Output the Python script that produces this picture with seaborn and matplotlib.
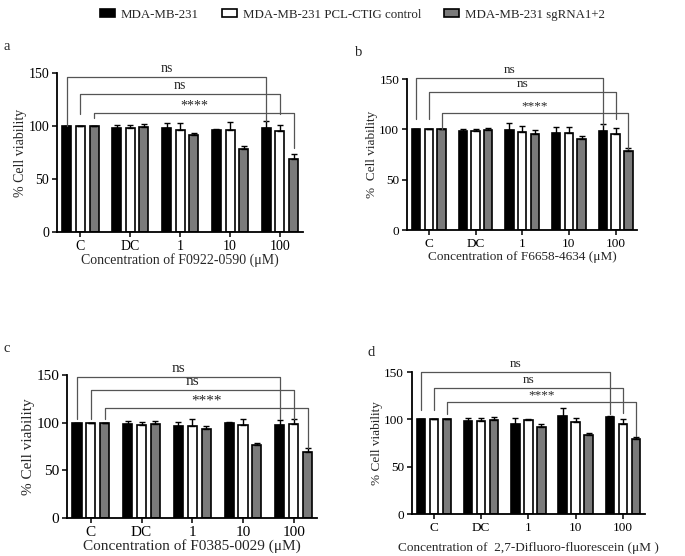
import numpy as np
import pandas as pd
import matplotlib
matplotlib.use('Agg')
import matplotlib.pyplot as plt
from matplotlib.patches import Patch
import seaborn as sns

sns.set_style('ticks')
plt.rcParams['font.family'] = ['Liberation Serif', 'DejaVu Serif']

concs = ['C', 'DC', '1', '10', '100']
groups = ['MDA-MB-231', 'MDA-MB-231 PCL-CTIG control', 'MDA-MB-231 sgRNA1+2']
colors = ['black', 'white', '#7a7a7a']

# mean viability per group (rows = groups, cols = concs)
a_mean = [[100, 98, 98, 96.5, 98], [100, 98.5, 96, 96.7, 95], [100, 99.5, 91.5, 78, 69]]
a_err = [[0, 2.5, 5, 1, 7], [0, 2, 7, 7, 6], [0, 2, 1.5, 3, 5]]
b_mean = [[100, 98.5, 99, 96, 98], [100, 98.5, 97, 96, 95.5], [100, 99.5, 95, 90.5, 78]]
b_err = [[0, 2, 7.5, 6.5, 7], [0, 2, 6, 6.5, 6], [0, 2, 4, 3, 3]]
c_mean = [[100, 98.5, 97, 100, 98], [100, 98, 97, 98, 99], [100, 99, 93.5, 77, 69.5]]
c_err = [[0, 3, 3.5, 1, 4.5], [0, 3, 6.5, 6, 5], [0, 3, 3, 2, 3.5]]
d_mean = [[100, 98.5, 95.5, 104, 103], [100, 98.5, 99, 97.5, 95.5], [100, 99.5, 92, 83, 79]]
d_err = [[0, 2.5, 6, 8, 1], [0, 2.5, 1, 3.5, 5], [0, 2.5, 3, 2.5, 2]]

# significance brackets: level, left leg end, right leg end
sig_labels = ['ns', 'ns', '****']
a_sig = [[146, 100, 105], [130, 111, 111], [112, 108, 79]]
b_sig = [[151, 110, 104], [137, 110, 110], [116.5, 100, 80]]
c_sig = [[148, 104, 104], [134, 104, 104], [115.5, 104, 74]]
d_sig = [[150, 110, 106], [133.5, 110, 107], [118.7, 106, 82]]

xlabels = ['Concentration of F0922-0590 (\u03bcM)',
           'Concentration of F6658-4634 (\u03bcM)',
           'Concentration of F0385-0029 (\u03bcM)',
           'Concentration of  2,7-Difluoro-fluorescein (\u03bcM )']
ylabels = ['% Cell viability', '%  Cell viability', '% Cell viability', '% Cell viability']
letters = ['a', 'b', 'c', 'd']

fig = plt.figure(figsize=(6.85, 5.56), dpi=100)
boxes = [[0.0832, 0.5827, 0.359, 0.286],
         [0.594, 0.5863, 0.336, 0.2716],
         [0.0978, 0.0683, 0.365, 0.257],
         [0.601, 0.0755, 0.340, 0.2554]]
fsizes = [10, 9.5, 11, 9.5]
xpads = [0, 1, 0, 6]
letter_pos = [(4, 47), (355, 53), (3, 348), (367, 352)]

panels = [(a_mean, a_err, a_sig), (b_mean, b_err, b_sig),
          (c_mean, c_err, c_sig), (d_mean, d_err, d_sig)]

for i, (means, errs, sigs) in enumerate(panels):
    ax = fig.add_axes(boxes[i])
    fs = fsizes[i]
    df = pd.DataFrame({
        'conc': np.tile(concs, 3),
        'group': np.repeat(groups, 5),
        'viability': np.ravel(means),
    })
    sns.barplot(data=df, x='conc', y='viability', hue='group', order=concs,
                hue_order=groups, palette=colors, saturation=1,
                edgecolor='black', linewidth=1.2, width=0.82, gap=0.34,
                errorbar=None, legend=False, ax=ax)
    bar_conts = list(ax.containers)
    centers = []
    for k, cont in enumerate(bar_conts):
        xs = [p.get_x() + p.get_width() / 2 for p in cont]
        hs = [p.get_height() for p in cont]
        centers.append(xs)
        ax.errorbar(xs, hs, yerr=[np.zeros(5), errs[k]], fmt='none',
                    ecolor='black', elinewidth=1.0, capsize=2.5,
                    capthick=1.0, zorder=1)
    for k, (lev, lb, rb) in enumerate(sigs):
        x0 = centers[k][0]
        x1 = centers[k][4]
        ax.plot([x0, x0, x1, x1], [lb, lev, lev, rb], color='#555555',
                lw=0.9, clip_on=False)
        off = 2 if sig_labels[k] == 'ns' else 0.5
        ax.text((x0 + x1) / 2, lev + off, sig_labels[k], ha='center',
                va='bottom', fontsize=fs, clip_on=False)
    ax.set_ylim(0, 150)
    ax.set_xlim(-0.47, 4.46)
    ax.set_yticks([0, 50, 100, 150])
    sns.despine(ax=ax)
    for s in ['left', 'bottom']:
        ax.spines[s].set_linewidth(1.3)
        ax.spines[s].set_color('black')
    ax.tick_params(axis='both', length=3.5, width=1.1, labelsize=fs,
                   colors='black', pad=2)
    ax.set_xlabel(xlabels[i], fontsize=fs, labelpad=xpads[i])
    ax.set_ylabel(ylabels[i], fontsize=fs, labelpad=1)
    fig.text(letter_pos[i][0] / 685, 1 - letter_pos[i][1] / 556, letters[i],
             fontsize=10.5, ha='left', va='center')

handles = [Patch(facecolor=c, edgecolor='black', linewidth=1.2) for c in colors]
fig.legend(handles, groups, loc='upper center', bbox_to_anchor=(0.5146, 1.005),
           ncol=3, frameon=False, fontsize=9.3, handlelength=1.16,
           handleheight=0.54, columnspacing=1.78, handletextpad=0.46)

fig.savefig('out.png', dpi=100)
